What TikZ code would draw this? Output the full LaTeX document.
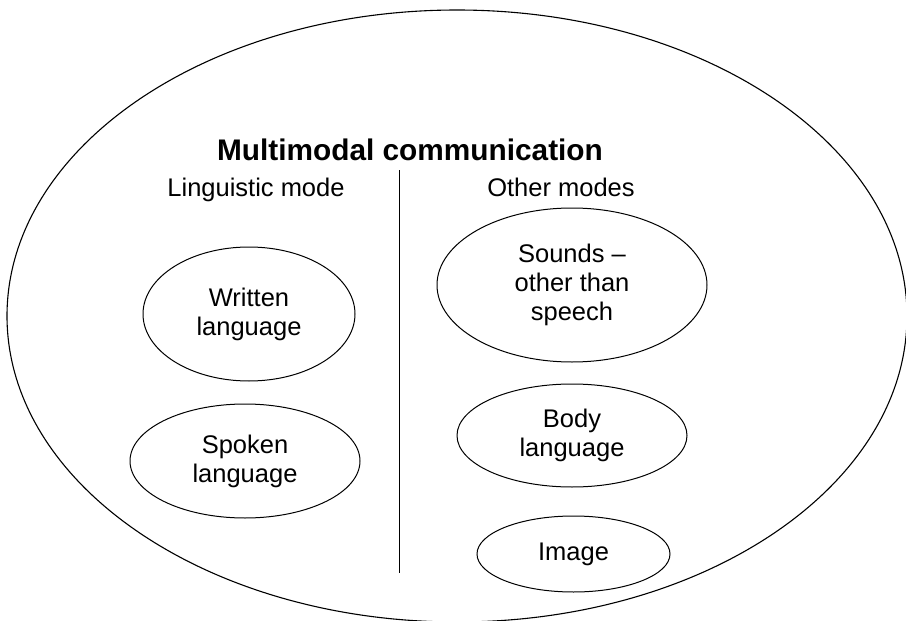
\documentclass[tikz,border=0pt]{standalone}
\usepackage{fontspec}
\setmainfont{Liberation Sans}
\usetikzlibrary{shapes.geometric}
\begin{document}
\begin{tikzpicture}[x=1pt,y=-1pt,
  modebox/.style={draw, ellipse, line width=1pt, inner sep=0pt, align=center,
    font=\fontsize{25.5}{29}\selectfont},
  heading/.style={anchor=base, inner sep=0pt, font=\fontsize{25.5}{29}\selectfont},
  title/.style={anchor=base, inner sep=0pt, font=\fontsize{29.8}{34}\selectfont\bfseries}]
\useasboundingbox (0,0) rectangle (906,621);

% outer boundary
\node[draw, ellipse, line width=1.1pt, inner sep=0pt,
      minimum width=900pt, minimum height=612pt] (frame) at (457,316) {};

% headings
\node[title] (ttl) at (410,160.7) {Multimodal communication};
\node[heading] (ling) at (256,196) {Linguistic mode};
\node[heading] (other) at (561,196) {Other modes};

% divider
\coordinate (divtop) at (399,170);
\coordinate (divbot) at (399,573);
\draw[line width=1pt] (divtop) -- (divbot);

% linguistic mode
\node[modebox, minimum width=212pt, minimum height=134pt] (written) at (249,314) {Written\\language};
\node[modebox, minimum width=230pt, minimum height=114pt] (spoken) at (245,461) {Spoken\\language};

% other modes
\node[modebox, minimum width=270pt, minimum height=154pt] (sounds) at (572,285) {Sounds --\\other than\\speech};
\node[modebox, minimum width=230pt, minimum height=103pt] (body) at (572,435.5) {Body\\language};
\node[modebox, minimum width=193pt, minimum height=76pt] (image) at (573.5,554) {Image};
\end{tikzpicture}
\end{document}
